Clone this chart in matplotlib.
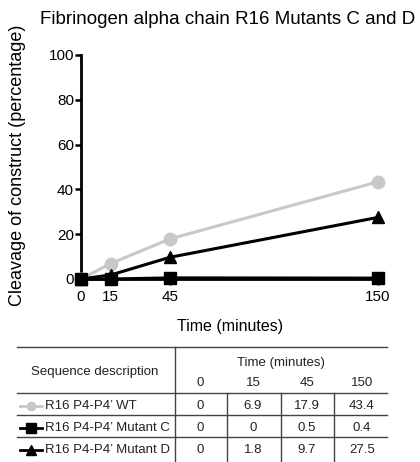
import matplotlib
matplotlib.use("Agg")
import matplotlib.pyplot as plt

plt.rcParams["font.family"] = ["Liberation Sans", "DejaVu Sans"]

# donnees
temps = [0, 15, 45, 150]
wt = [0, 6.9, 17.9, 43.4]
mutant_c = [0, 0, 0.5, 0.4]
mutant_d = [0, 1.8, 9.7, 27.5]
noms = ["R16 P4-P4\u2019 WT", "R16 P4-P4\u2019 Mutant C", "R16 P4-P4\u2019 Mutant D"]
y_ticks = [0, 20, 40, 60, 80, 100]

W, H = 420, 462
fig = plt.figure(figsize=(W / 100, H / 100), dpi=100)

# axe plein cadre en pixels pour le tableau
tb = fig.add_axes([0, 0, 1, 1])
tb.set_xlim(0, W); tb.set_ylim(H, 0); tb.axis("off")

ax = fig.add_axes([81 / W, 1 - 279 / H, 297 / W, 224 / H])
styles = [dict(color="#c8c8c8", marker="o", ms=9),
          dict(color="black", marker="s", ms=9),
          dict(color="black", marker="^", ms=9)]
for serie, st in zip([wt, mutant_c, mutant_d], styles):
    ax.plot(temps, serie, lw=2.2, clip_on=False, zorder=3, **st)

ax.set_xlim(0, 150); ax.set_ylim(0, 100)
ax.set_xticks(temps); ax.set_yticks(y_ticks)
for s in ["top", "right"]:
    ax.spines[s].set_visible(False)
for s in ["left", "bottom"]:
    ax.spines[s].set_linewidth(2)
ax.tick_params(width=1.8, length=4, labelsize=11, direction="out")
ax.tick_params(axis="y", pad=1)
ax.tick_params(axis="x", pad=4)
ax.set_xlabel("Time (minutes)", fontsize=11.5)
ax.xaxis.set_label_coords(0.502, -0.214)
ax.xaxis.label.set_va("center")
ax.set_ylabel("Cleavage of construct (percentage)", fontsize=13)
ax.yaxis.set_label_coords(-0.215, 0.509)
ax.yaxis.label.set_va("center")
fig.text(228 / W, 1 - 20 / H, "Fibrinogen alpha chain R16 Mutants C and D",
         ha="center", va="center", fontsize=13.5)

# tableau
lc = "#444444"
for y in [347, 393, 415, 437]:
    tb.plot([17, 387], [y, y], color=lc, lw=1)
tb.plot([175, 175], [347, H], color=lc, lw=1)
for x in [227, 281, 334]:
    tb.plot([x, x], [393, H], color=lc, lw=1)

col_x = [200, 253, 307, 362]
row_y = [406, 428, 450]
tc = "#222222"
fs = 9.5
tb.text(95, 372, "Sequence description", ha="center", va="center", fontsize=fs, color=tc)
tb.text(281, 363, "Time (minutes)", ha="center", va="center", fontsize=fs, color=tc)
for x, t in zip(col_x, temps):
    tb.text(x, 383, str(t), ha="center", va="center", fontsize=fs, color=tc)

mini = [dict(color="#c8c8c8", marker="o", ms=6),
        dict(color="black", marker="s", ms=6.5),
        dict(color="black", marker="^", ms=7)]
for y, nom, serie, st in zip(row_y, noms, [wt, mutant_c, mutant_d], mini):
    tb.plot([20, 42], [y, y], lw=2, color=st["color"])
    tb.plot([31], [y], linestyle="none", **st)
    tb.text(45, y, nom, ha="left", va="center", fontsize=fs, color=tc)
    for x, v in zip(col_x, serie):
        tb.text(x, y, f"{v:g}", ha="center", va="center", fontsize=fs, color=tc)

fig.savefig("out.png", dpi=100)
